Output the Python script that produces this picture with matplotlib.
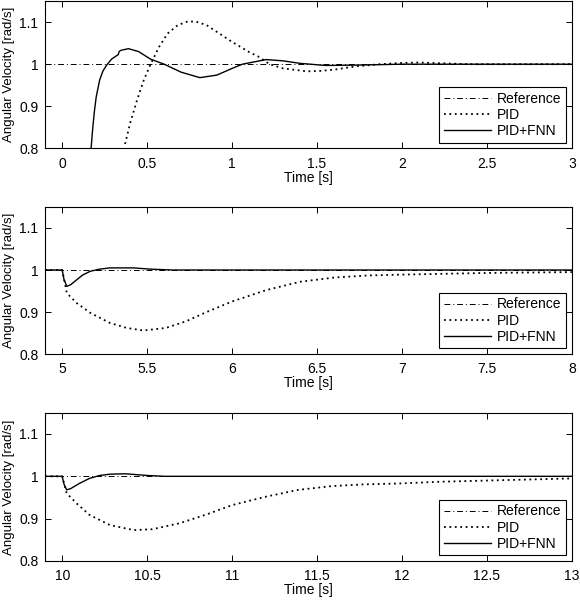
import matplotlib
matplotlib.use("Agg")
import matplotlib.pyplot as plt

plt.rcParams["font.family"] = ["Liberation Sans", "DejaVu Sans"]
plt.rcParams["font.size"] = 10

# reference speed
ref_value = 1.0

# panel 1: start-up
t1_fnn = [0.16, 0.17, 0.18, 0.19, 0.20, 0.22, 0.24, 0.26, 0.29, 0.33, 0.335, 0.345,
          0.39, 0.45, 0.52, 0.60, 0.70, 0.81, 0.91, 1.0, 1.06, 1.2, 1.3, 1.4, 1.55,
          1.75, 2.0, 2.5, 3.0]
v1_fnn = [0.78, 0.80, 0.85, 0.89, 0.922, 0.962, 0.984, 0.997, 1.012, 1.023, 1.03, 1.033,
          1.037, 1.03, 1.012, 1.0, 0.981, 0.968, 0.974, 0.99, 1.0, 1.011, 1.008, 1.002,
          0.997, 0.998, 1.0, 1.0, 1.0]
t1_pid = [0.37, 0.40, 0.44, 0.48, 0.52, 0.57, 0.62, 0.68, 0.74, 0.79, 0.85, 0.91, 1.0,
          1.1, 1.16, 1.22, 1.3, 1.44, 1.52, 1.6, 1.73, 1.87, 2.0, 2.1, 2.25, 2.4, 3.0]
v1_pid = [0.81, 0.86, 0.914, 0.962, 1.0, 1.041, 1.073, 1.093, 1.102, 1.101, 1.093, 1.077,
          1.053, 1.029, 1.017, 1.0, 0.99, 0.983, 0.984, 0.987, 0.995, 1.0, 1.003, 1.004,
          1.002, 1.0, 1.0]

# panel 2: load step at 5 s
t2_fnn = [4.9, 5.0, 5.01, 5.027, 5.05, 5.086, 5.12, 5.165, 5.22, 5.28, 5.42, 5.52, 5.65, 8.0]
v2_fnn = [1.0, 1.0, 0.978, 0.961, 0.965, 0.977, 0.988, 0.997, 1.002, 1.005, 1.005, 1.002, 1.0, 1.0]
t2_pid = [4.9, 5.0, 5.027, 5.086, 5.165, 5.28, 5.38, 5.478, 5.61, 5.73, 5.85, 6.0, 6.2,
          6.4, 6.6, 6.8, 7.0, 7.25, 7.5, 8.0]
v2_pid = [1.0, 1.0, 0.945, 0.921, 0.898, 0.874, 0.862, 0.856, 0.862, 0.878, 0.9, 0.925,
          0.952, 0.972, 0.982, 0.987, 0.989, 0.991, 0.993, 0.995]

# panel 3: load step at 10 s
t3_fnn = [9.9, 10.0, 10.01, 10.026, 10.05, 10.1, 10.16, 10.22, 10.28, 10.37, 10.5, 10.6, 13.0]
v3_fnn = [1.0, 1.0, 0.982, 0.968, 0.971, 0.983, 0.995, 1.002, 1.005, 1.006, 1.002, 1.0, 1.0]
t3_pid = [9.9, 10.0, 10.026, 10.085, 10.16, 10.28, 10.42, 10.53, 10.69, 10.85, 11.0, 11.2,
          11.39, 11.59, 11.78, 11.98, 12.21, 12.5, 13.0]
v3_pid = [1.0, 1.0, 0.96, 0.936, 0.909, 0.885, 0.873, 0.875, 0.889, 0.91, 0.932, 0.952,
          0.968, 0.977, 0.981, 0.983, 0.987, 0.99, 0.995]

xlims = [(-0.1, 3), (4.9, 8), (9.9, 13)]
xticks = [[0, 0.5, 1, 1.5, 2, 2.5, 3],
          [5, 5.5, 6, 6.5, 7, 7.5, 8],
          [10, 10.5, 11, 11.5, 12, 12.5, 13]]
xtick_labels = [["0", "0.5", "1", "1.5", "2", "2.5", "3"],
                ["5", "5.5", "6", "6.5", "7", "7.5", "8"],
                ["10", "10.5", "11", "11.5", "12", "12.5", "13"]]
yticks = [0.8, 0.9, 1.0, 1.1]
ytick_labels = ["0.8", "0.9", "1", "1.1"]

panels = [(t1_pid, v1_pid, t1_fnn, v1_fnn),
          (t2_pid, v2_pid, t2_fnn, v2_fnn),
          (t3_pid, v3_pid, t3_fnn, v3_fnn)]
boxes = [(0.078, 0.753, 0.908, 0.245),
         (0.078, 0.410, 0.908, 0.245),
         (0.078, 0.065, 0.908, 0.247)]

fig = plt.figure(figsize=(5.8, 6.0), dpi=100)
for i, (tp, vp, tf, vf) in enumerate(panels):
    ax = fig.add_axes(boxes[i])
    ax.axhline(ref_value, color="black", lw=0.7, ls="-.", dashes=(6, 3, 1, 3), label="Reference")
    ax.plot(tp, vp, color="black", lw=1.3, ls=(0, (1, 2.0)), label="PID")
    ax.plot(tf, vf, color="black", lw=1.0, ls="-", label="PID+FNN")
    ax.set_xlim(*xlims[i])
    ax.set_ylim(0.8, 1.15)
    ax.set_xticks(xticks[i])
    ax.set_xticklabels(xtick_labels[i])
    ax.set_yticks(yticks)
    ax.set_yticklabels(ytick_labels)
    ax.tick_params(direction="in", top=True, right=True, length=4, width=0.7, labelsize=10)
    ax.tick_params(axis="x", pad=6)
    ax.tick_params(axis="y", pad=5)
    for s in ax.spines.values():
        s.set_linewidth(0.8)
    ax.set_xlabel("Time [s]", labelpad=0)
    ax.set_ylabel("Angular Velocity [rad/s]", labelpad=3, fontsize=9.5)
    leg = ax.legend(loc="lower right", fancybox=False, framealpha=1, edgecolor="black",
                    borderpad=0.35, labelspacing=0.15, handlelength=3.4, handletextpad=0.4,
                    borderaxespad=0.4, fontsize=10)
    leg.get_frame().set_linewidth(0.8)

fig.savefig("out.png", dpi=100)
